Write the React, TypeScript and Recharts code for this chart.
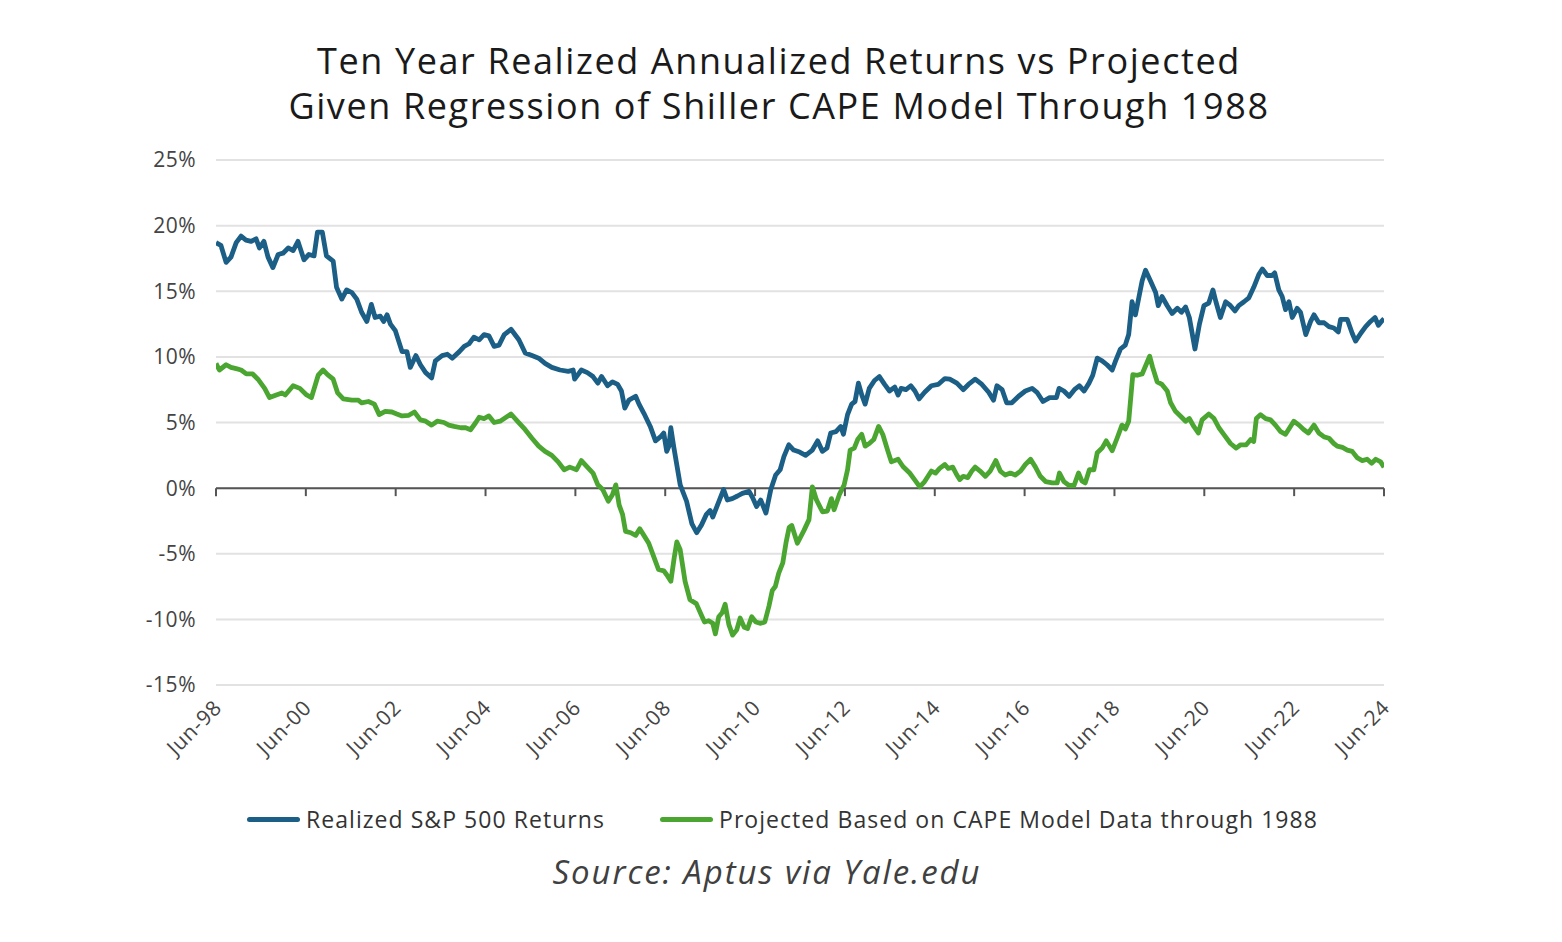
import React from "react";
import { LineChart, Line, XAxis, YAxis, CartesianGrid, ReferenceLine } from "recharts";

// months since Jun-1998
const blueMonths = [
  0, 1.3, 2.7, 4, 5.4, 6.7, 8, 9.4, 10.7, 11.6, 12.8, 13.9, 15.2, 16.6, 17.9, 19.3, 20.6, 21.9, 23.5, 24.8,
  26.2, 27.1, 28.4, 29.5, 31.3, 32.2, 33.6, 34.9, 36.3, 37.6, 38.9, 40.3, 41.5, 42.5, 43.9, 44.8, 45.7, 46.6, 47.9, 49.7,
  51.0, 51.9, 53.4, 54.6, 56.0, 57.6, 58.6, 60.4, 61.8, 63.1, 65.0, 66.3, 67.6, 68.9, 70.3, 71.6, 72.9, 74.3, 75.6, 77.0,
  78.8, 80.9, 82.6, 84.4, 86.2, 87.9, 89.7, 91.9, 94.1, 95.4, 95.8, 97.6, 99.2, 100.7, 102, 103, 104.6, 105.9, 107.3, 108.3,
  109.2, 110.3, 112.1, 113, 114.3, 116.0, 117.4, 118.7, 119.6, 120.4, 121, 121.5, 122.3, 124, 125.7, 127.1, 128.4, 129.7, 131, 132,
  132.7, 134.5, 135.6, 136.6, 137.9, 139.3, 140.6, 142.4, 143.3, 144.4, 145.5, 146.9, 148.2, 149.5, 150.7, 151.7, 153, 154.3, 155.9, 157.5,
  159.3, 160.7, 162, 163.2, 164.2, 165.6, 166.9, 167.6, 168.7, 169.8, 170.7, 171.6, 172.5, 173.4, 174.5, 175.9, 177.2, 178.6, 179.9, 181.3,
  182.2, 183, 184.3, 185.6, 186.7, 187.8, 189.3, 191.1, 192.9, 194.7, 196, 197.9, 199.6, 201, 202.8, 204.6, 206.4, 207.7, 208.6, 210,
  211.2, 212.6, 214.4, 216.2, 218, 219.3, 220.9, 222.7, 224.5, 225.2, 226.5, 227.9, 229.3, 230.6, 231.9, 233.2, 234.2, 235.4, 236.7, 238,
  239.4, 240.3, 241.6, 242.9, 243.8, 244.7, 245.6, 246.5, 247.4, 248.3, 249.6, 251, 251.7, 252.7, 254.1, 255.4, 256.8, 257.9, 259, 260,
  261.5, 262.7, 263.9, 265.2, 266.3, 267.1, 268.3, 269.7, 271, 272.2, 273.2, 274.6, 275.9, 277.2, 278.6, 279.5, 280.8, 282.1, 282.8, 283.9,
  284.8, 285.7, 286.6, 287.5, 288.8, 289.7, 291.1, 292.4, 293.3, 294.6, 296, 297.3, 298.6, 299.8, 300.4, 302.2, 303.5, 304.4, 305.8, 307.1,
  308.4, 309.6, 310.5, 311.3, 312,
];
const blueValues = [
  18.7, 18.5, 17.2, 17.6, 18.7, 19.2, 18.9, 18.8, 19.0, 18.3, 18.8, 17.6, 16.8, 17.8, 17.9, 18.3, 18.1, 18.8, 17.4, 17.8,
  17.7, 19.5, 19.5, 17.7, 17.3, 15.3, 14.4, 15.1, 14.9, 14.4, 13.4, 12.7, 14.0, 13.0, 13.1, 12.7, 13.2, 12.5, 12.0, 10.4,
  10.4, 9.2, 10.1, 9.4, 8.8, 8.4, 9.7, 10.1, 10.2, 9.9, 10.4, 10.8, 11.0, 11.5, 11.3, 11.7, 11.6, 10.8, 10.9, 11.7,
  12.1, 11.3, 10.3, 10.1, 9.9, 9.5, 9.2, 9.0, 8.9, 9.0, 8.3, 9.0, 8.8, 8.5, 8.0, 8.5, 7.8, 8.1, 7.9, 7.4,
  6.1, 6.7, 7.0, 6.4, 5.7, 4.7, 3.6, 3.9, 4.2, 2.8, 3.2, 4.6, 3.1, 0.25, -1.0, -2.7, -3.4, -2.8, -2.0, -1.7,
  -2.2, -0.9, -0.1, -0.9, -0.8, -0.6, -0.4, -0.25, -0.7, -1.4, -0.9, -1.9, -0.1, 1.0, 1.4, 2.4, 3.3, 2.9, 2.75, 2.5,
  2.9, 3.6, 2.8, 3.05, 4.2, 4.3, 4.7, 4.1, 5.6, 6.4, 6.6, 8.0, 7.1, 6.4, 7.6, 8.2, 8.5, 7.9, 7.4, 7.7,
  7.1, 7.6, 7.5, 7.8, 7.4, 6.8, 7.3, 7.8, 7.9, 8.35, 8.3, 8.0, 7.5, 7.9, 8.3, 7.9, 7.3, 6.7, 7.8, 7.5,
  6.5, 6.5, 7.0, 7.4, 7.6, 7.3, 6.6, 6.9, 6.9, 7.6, 7.4, 7.0, 7.5, 7.8, 7.4, 8.0, 8.6, 9.9, 9.7, 9.4,
  9.0, 9.7, 10.6, 10.9, 11.7, 14.2, 13.2, 14.5, 15.8, 16.6, 15.8, 14.9, 13.9, 14.6, 13.9, 13.3, 13.7, 13.4, 13.8, 13.0,
  10.6, 12.5, 13.9, 14.1, 15.1, 14.2, 13.0, 14.2, 13.9, 13.5, 13.9, 14.2, 14.5, 15.3, 16.3, 16.7, 16.2, 16.2, 16.4, 15.1,
  14.6, 13.6, 14.2, 13.0, 13.7, 13.4, 11.7, 12.7, 13.2, 12.6, 12.6, 12.3, 12.2, 11.9, 12.85, 12.85, 11.8, 11.2, 11.8, 12.3,
  12.7, 13.0, 12.4, 12.7, 12.9,
];

const greenMonths = [
  0, 0.9, 2.7, 4, 5.4, 6.7, 8.1, 9.8, 11.2, 13, 14.3, 16.1, 17.6, 18.5, 20.6, 22.4, 24.2, 25.5, 27.3, 28.6,
  29.8, 31.3, 32.5, 34, 36.3, 38, 38.9, 40.7, 42.3, 43.6, 45.2, 47, 48.3, 49.7, 51.5, 53, 54.6, 56, 57.6, 59.1,
  60.9, 62.2, 63.6, 65.4, 66.7, 68, 69.4, 70.3, 71.6, 72.9, 74.3, 75.9, 78.8, 80.5, 82.6, 84.4, 86.2, 87.9, 89.7, 91.4,
  93, 94.5, 96.3, 97.6, 99.2, 100.7, 102, 103.3, 104.8, 105.9, 106.8, 107.7, 108.6, 109.4, 110.8, 112.1, 113.2, 114.3, 115.6, 116.9,
  118.2, 119.6, 120.4, 121.5, 122.4, 123.1, 124, 125.3, 126.6, 128.3, 129.7, 130.5, 131.6, 132.7, 133.4, 134.3, 135.2, 136, 137, 138,
  139.1, 140, 141.1, 142, 143.1, 144.2, 145.5, 146.6, 147.7, 148.6, 149.4, 150.3, 151.4, 152.3, 153.1, 153.8, 155.3, 157.1, 158.4, 159.3,
  160.4, 162, 163.3, 164.4, 165.1, 166.5, 167.8, 168.7, 169.4, 170.5, 171.4, 172.5, 173.4, 174.5, 175.7, 177, 178.1, 179.5, 180.4, 182.2,
  183.5, 185.3, 186.6, 188, 189.3, 190.2, 191.1, 192.2, 193.3, 194.7, 195.6, 196.8, 197.9, 198.7, 199.6, 200.8, 201.9, 202.8, 204.1, 205.5,
  206.8, 208.3, 209.5, 210.8, 212.2, 213.5, 214.9, 216.2, 217.6, 218.9, 220.2, 221.6, 223.4, 224.7, 225.3, 226.5, 227.9, 229.2, 230.4, 231.3,
  232.2, 233.3, 234.5, 235.4, 236.7, 237.8, 239.4, 240.7, 242, 242.9, 243.8, 244.9, 246.1, 247.4, 248.3, 249.4, 250.2, 251.4, 252.7, 254.1,
  255, 256.3, 257.6, 259, 260, 261.2, 262.4, 263.4, 265.2, 266.6, 267.9, 269.2, 271, 272.5, 273.7, 275.2, 276.4, 277.2, 277.9, 279,
  280.4, 281.7, 283, 284.4, 285.7, 286.8, 287.9, 289.3, 290.6, 291.8, 293.3, 294.6, 296, 297.3, 298.6, 299.5, 300.9, 302.2, 303.5, 304.9,
  306.2, 307.5, 308.7, 309.8, 311.1, 312,
];
const greenValues = [
  9.5, 9.0, 9.4, 9.2, 9.1, 9.0, 8.7, 8.7, 8.3, 7.6, 6.9, 7.1, 7.25, 7.1, 7.8, 7.6, 7.1, 6.9, 8.6, 9.0,
  8.65, 8.3, 7.25, 6.8, 6.7, 6.7, 6.5, 6.6, 6.4, 5.6, 5.85, 5.8, 5.65, 5.5, 5.55, 5.8, 5.2, 5.1, 4.8, 5.1,
  5.0, 4.8, 4.7, 4.6, 4.6, 4.45, 5.0, 5.4, 5.3, 5.5, 5.0, 5.1, 5.65, 5.1, 4.45, 3.8, 3.2, 2.8, 2.5, 2.0,
  1.4, 1.6, 1.4, 2.1, 1.6, 1.15, 0.25, -0.1, -1.0, -0.5, 0.25, -1.3, -2.0, -3.3, -3.4, -3.6, -3.1, -3.6, -4.2, -5.2,
  -6.2, -6.3, -6.6, -7.1, -5.3, -4.1, -4.7, -7.1, -8.5, -8.8, -9.7, -10.2, -10.1, -10.3, -11.1, -9.8, -9.5, -8.85, -10.4, -11.2,
  -10.8, -9.9, -10.6, -10.7, -9.8, -10.2, -10.3, -10.2, -9.0, -7.8, -7.5, -6.5, -5.7, -4.1, -3.0, -2.85, -4.2, -3.2, -2.4, 0.1,
  -0.9, -1.8, -1.75, -0.8, -1.65, -0.5, 0.25, 1.4, 2.9, 3.05, 3.7, 4.1, 3.2, 3.4, 3.7, 4.7, 4.1, 2.8, 2.0, 2.2,
  1.65, 1.15, 0.65, 0.1, 0.5, 0.9, 1.3, 1.15, 1.5, 1.8, 1.5, 1.6, 1.0, 0.65, 0.9, 0.8, 1.3, 1.6, 1.3, 0.9,
  1.3, 2.1, 1.3, 1.0, 1.15, 1.0, 1.3, 1.8, 2.2, 1.6, 0.9, 0.5, 0.4, 0.4, 1.15, 0.5, 0.2, 0.2, 1.15, 0.55,
  0.4, 1.4, 1.4, 2.7, 3.05, 3.6, 2.85, 3.8, 4.8, 4.5, 5.1, 8.65, 8.6, 8.7, 9.3, 10.05, 9.2, 8.1, 7.9, 7.4,
  6.5, 5.85, 5.5, 5.1, 5.3, 4.7, 4.2, 5.2, 5.65, 5.3, 4.6, 4.1, 3.4, 3.05, 3.3, 3.3, 3.7, 3.55, 5.3, 5.6,
  5.3, 5.2, 4.8, 4.3, 4.1, 4.6, 5.1, 4.8, 4.45, 4.2, 4.8, 4.2, 3.9, 3.8, 3.4, 3.2, 3.1, 2.9, 2.8, 2.3,
  2.1, 2.2, 1.9, 2.2, 2.0, 1.6,
];

const xTickMonths = [0, 24, 48, 72, 96, 120, 144, 168, 192, 216, 240, 264, 288, 312];
const xTickLabels = ["Jun-98", "Jun-00", "Jun-02", "Jun-04", "Jun-06", "Jun-08", "Jun-10", "Jun-12", "Jun-14", "Jun-16", "Jun-18", "Jun-20", "Jun-22", "Jun-24"];
const yTicks = [-15, -10, -5, 0, 5, 10, 15, 20, 25];

const seriesNames = ["Realized S&P 500 Returns", "Projected Based on CAPE Model Data through 1988"];
const seriesColors = ["#1b5e86", "#4ba631"];

const titleLines = ["Ten Year Realized Annualized Returns vs Projected", "Given Regression of Shiller CAPE Model Through 1988"];
const sourceText = "Source: Aptus via Yale.edu";

const FONT = "'Open Sans', 'Noto Sans', sans-serif";

const blueData = blueMonths.map((m, i) => ({ m, v: blueValues[i] }));
const greenData = greenMonths.map((m, i) => ({ m, v: greenValues[i] }));

const W = 1546;
const H = 926;
const M = { top: 152, right: 170, bottom: 149, left: 0 };
const Y_AXIS_W = 208;
const PLOT_H = H - M.top - M.bottom - 100;
const Y_MIN = -15;
const Y_MAX = 25;
const ZERO_Y = M.top + (PLOT_H * Y_MAX) / (Y_MAX - Y_MIN);
const LABEL_Y = M.top + PLOT_H + 24;

function XTick(props: any) {
  const { x, payload } = props;
  const idx = xTickMonths.indexOf(payload.value);
  const label = idx >= 0 ? xTickLabels[idx] : "";
  const tx = x + 7;
  return (
    <g>
      <line x1={x} x2={x} y1={ZERO_Y} y2={ZERO_Y + 8} stroke="#555" strokeWidth={2} />
      <text
        x={tx}
        y={LABEL_Y}
        textAnchor="end"
        fill="#444"
        fontSize={21}
        letterSpacing={0.8}
        fontFamily={FONT}
        transform={`rotate(-45 ${tx} ${LABEL_Y})`}
      >
        {label}
      </text>
    </g>
  );
}

export default function App() {
  return (
    <div style={{ position: "relative", width: W, height: H, background: "#fff", fontFamily: FONT }}>
      <div
        style={{
          position: "absolute",
          left: 0,
          top: 30,
          width: 1542,
          textAlign: "center",
          fontSize: 36,
          letterSpacing: "1.6px",
          lineHeight: "45px",
          color: "#1a1a1a",
        }}
      >
        {titleLines.map((t) => (
          <div key={t}>{t}</div>
        ))}
      </div>
      <div style={{ position: "absolute", left: 0, top: 0 }}>
        <LineChart width={W} height={H} margin={M}>
          <CartesianGrid horizontal vertical={false} stroke="#e2e2e2" strokeWidth={2} />
          <XAxis
            type="number"
            dataKey="m"
            domain={[0, 312]}
            ticks={xTickMonths}
            interval={0}
            height={100}
            axisLine={false}
            tickLine={false}
            tick={<XTick />}
            allowDataOverflow
          />
          <YAxis
            type="number"
            domain={[Y_MIN, Y_MAX]}
            ticks={yTicks}
            width={Y_AXIS_W}
            axisLine={false}
            tickLine={false}
            tickMargin={14}
            tickFormatter={(v: number) => `${v}%`}
            tick={{ fill: "#444", fontSize: 21, fontFamily: FONT, letterSpacing: 0.5 }}
          />
          <ReferenceLine y={0} stroke="#555" strokeWidth={2} />
          <Line
            data={blueData}
            dataKey="v"
            type="linear"
            stroke={seriesColors[0]}
            strokeWidth={4.8}
            strokeLinejoin="round"
            dot={false}
            activeDot={false}
            isAnimationActive={false}
          />
          <Line
            data={greenData}
            dataKey="v"
            type="linear"
            stroke={seriesColors[1]}
            strokeWidth={4.8}
            strokeLinejoin="round"
            dot={false}
            activeDot={false}
            isAnimationActive={false}
          />
        </LineChart>
      </div>
      {[239, 652].map((left, i) => (
        <div
          key={i}
          style={{
            position: "absolute",
            left,
            top: 796,
            height: 30,
            display: "flex",
            alignItems: "center",
            fontSize: 23,
            letterSpacing: "1.05px",
            color: "#333",
            whiteSpace: "nowrap",
          }}
        >
          <span
            style={{
              display: "inline-block",
              width: 53,
              height: 5,
              borderRadius: 3,
              background: seriesColors[i],
              marginRight: 6,
            }}
          />
          {seriesNames[i]}
        </div>
      ))}
      <div
        style={{
          position: "absolute",
          left: 0,
          top: 844,
          width: 1518,
          textAlign: "center",
          fontSize: 33,
          fontStyle: "italic",
          letterSpacing: "1.9px",
          color: "#404040",
          lineHeight: "40px",
        }}
      >
        {sourceText}
      </div>
    </div>
  );
}
